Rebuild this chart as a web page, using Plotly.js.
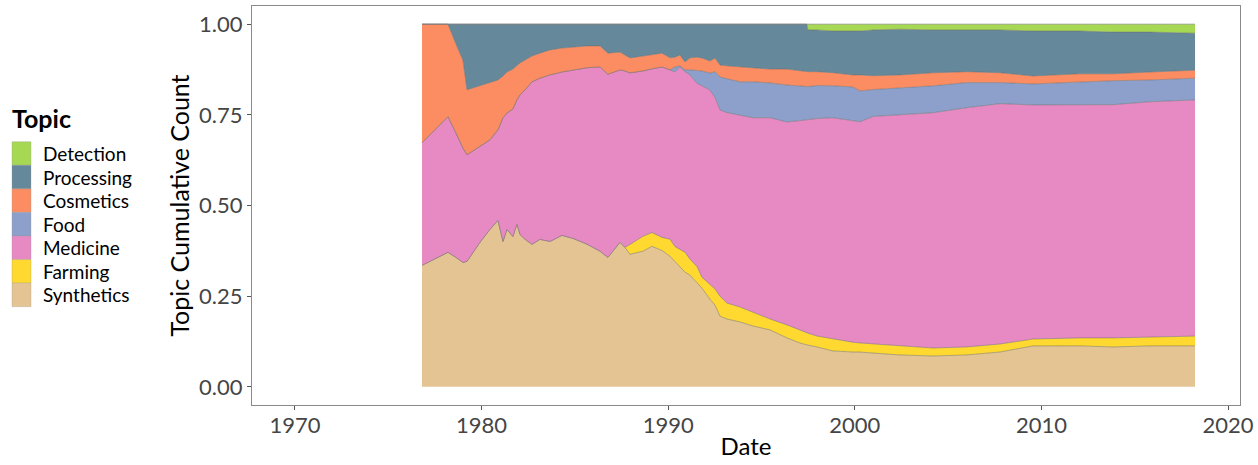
<!DOCTYPE html>
<html>
<head>
<meta charset="utf-8">
<script src="https://cdn.plot.ly/plotly-3.0.1.min.js"></script>
<style>
  html, body { margin: 0; padding: 0; background: #ffffff; }
  #chart { width: 1258px; height: 465px; }
</style>
</head>
<body>
<div id="chart"></div>
<script>
// ---- Data (proportion of cumulative count per topic) ----
const dates = [1976.81, 1978.20, 1978.63, 1979.00, 1979.22, 1979.91, 1980.45, 1980.88, 1981.15, 1981.36,
  1981.68, 1981.90, 1982.06, 1982.33, 1982.70, 1983.13, 1983.67, 1984.31, 1984.90, 1985.65,
  1986.35, 1986.77, 1987.42, 1987.68, 1987.95, 1988.65, 1989.13, 1989.67, 1990.10, 1990.36,
  1990.63, 1990.90, 1991.17, 1991.54, 1991.81, 1992.24, 1992.51, 1992.78, 1993.15, 1993.85,
  1994.54, 1995.46, 1996.37, 1997.06, 1997.43, 1997.49, 1997.97, 1998.83, 1999.90, 2000.28,
  2000.98, 2002.42, 2004.19, 2006.01, 2007.78, 2009.55, 2012.07, 2013.84, 2015.82, 2018.23];

const synthetics = [0.335, 0.371, 0.357, 0.343, 0.346, 0.398, 0.434, 0.459, 0.401, 0.434,
  0.415, 0.448, 0.420, 0.407, 0.393, 0.407, 0.401, 0.418, 0.409, 0.393,
  0.374, 0.357, 0.398, 0.385, 0.365, 0.374, 0.387, 0.376, 0.360, 0.346,
  0.332, 0.316, 0.308, 0.288, 0.272, 0.242, 0.225, 0.195, 0.187, 0.179,
  0.168, 0.157, 0.135, 0.121, 0.115, 0.115, 0.110, 0.099, 0.096, 0.096,
  0.093, 0.088, 0.085, 0.088, 0.096, 0.113, 0.113, 0.110, 0.113, 0.113];

const farming = [0, 0, 0, 0, 0, 0, 0, 0, 0, 0,
  0, 0, 0, 0, 0, 0, 0, 0, 0, 0,
  0, 0, 0, 0, 0.027, 0.041, 0.038, 0.036, 0.047, 0.041,
  0.047, 0.055, 0.044, 0.044, 0.030, 0.041, 0.044, 0.055, 0.044, 0.041,
  0.038, 0.030, 0.036, 0.036, 0.033, 0.033, 0.030, 0.033, 0.027, 0.025,
  0.025, 0.025, 0.022, 0.022, 0.022, 0.019, 0.022, 0.025, 0.025, 0.027];

const medicine = [0.338, 0.374, 0.343, 0.316, 0.294, 0.264, 0.247, 0.250, 0.341, 0.321,
  0.352, 0.343, 0.385, 0.412, 0.448, 0.445, 0.459, 0.451, 0.464, 0.486,
  0.508, 0.505, 0.475, 0.486, 0.473, 0.456, 0.451, 0.470, 0.467, 0.481,
  0.503, 0.497, 0.508, 0.505, 0.527, 0.536, 0.527, 0.514, 0.525, 0.530,
  0.536, 0.555, 0.560, 0.577, 0.588, 0.588, 0.599, 0.610, 0.610, 0.610,
  0.626, 0.637, 0.648, 0.659, 0.662, 0.646, 0.643, 0.643, 0.648, 0.651];

const food = [0, 0, 0, 0, 0, 0, 0, 0, 0, 0,
  0, 0, 0, 0, 0, 0, 0, 0, 0, 0,
  0, 0, 0, 0, 0, 0, 0, 0, 0, 0.014,
  0.003, 0.005, 0.014, 0.036, 0.041, 0.047, 0.071, 0.091, 0.093, 0.091,
  0.099, 0.096, 0.102, 0.096, 0.091, 0.091, 0.091, 0.088, 0.093, 0.085,
  0.074, 0.074, 0.074, 0.069, 0.058, 0.058, 0.063, 0.066, 0.060, 0.060];

const cosmetics = [0.327, 0.255, 0.245, 0.242, 0.179, 0.168, 0.157, 0.137, 0.115, 0.113,
  0.110, 0.093, 0.088, 0.082, 0.071, 0.069, 0.069, 0.066, 0.063, 0.060,
  0.058, 0.058, 0.049, 0.044, 0.041, 0.041, 0.038, 0.038, 0.033, 0.027,
  0.030, 0.022, 0.033, 0.036, 0.036, 0.033, 0.038, 0.033, 0.036, 0.041,
  0.038, 0.038, 0.044, 0.041, 0.041, 0.041, 0.038, 0.036, 0.033, 0.044,
  0.038, 0.036, 0.036, 0.030, 0.027, 0.022, 0.022, 0.019, 0.022, 0.022];

const processing = [0, 0, 0.055, 0.099, 0.181, 0.170, 0.162, 0.154, 0.143, 0.132,
  0.124, 0.115, 0.107, 0.099, 0.088, 0.080, 0.071, 0.066, 0.063, 0.060,
  0.060, 0.080, 0.077, 0.085, 0.093, 0.088, 0.085, 0.080, 0.093, 0.091,
  0.085, 0.104, 0.093, 0.091, 0.093, 0.102, 0.093, 0.113, 0.115, 0.118,
  0.121, 0.124, 0.124, 0.129, 0.132, 0.115, 0.115, 0.115, 0.121, 0.121,
  0.126, 0.126, 0.118, 0.115, 0.118, 0.124, 0.118, 0.115, 0.110, 0.102];

const detection = [0, 0, 0, 0, 0, 0, 0, 0, 0, 0,
  0, 0, 0, 0, 0, 0, 0, 0, 0, 0,
  0, 0, 0, 0, 0, 0, 0, 0, 0, 0,
  0, 0, 0, 0, 0, 0, 0, 0, 0, 0,
  0, 0, 0, 0, 0, 0.016, 0.016, 0.019, 0.019, 0.019,
  0.016, 0.014, 0.016, 0.016, 0.016, 0.019, 0.019, 0.022, 0.022, 0.025];

// legend order (top to bottom)
const topics = ['Detection', 'Processing', 'Cosmetics', 'Food', 'Medicine', 'Farming', 'Synthetics'];
const topicColors = ['#a6d854', '#65889a', '#fc8d62', '#8da0cb', '#e78ac3', '#ffd92f', '#e5c494'];
const xTicks = [1970, 1980, 1990, 2000, 2010, 2020];
const yTicks = [0, 0.25, 0.5, 0.75, 1];
const yTickText = ['0.00', '0.25', '0.50', '0.75', '1.00'];

// stacking order bottom -> top
const seriesByTopic = {
  Synthetics: synthetics, Farming: farming, Medicine: medicine, Food: food,
  Cosmetics: cosmetics, Processing: processing, Detection: detection
};
const stackOrder = topics.slice().reverse();

const traces = stackOrder.map((name, i) => {
  const col = topicColors[topics.indexOf(name)];
  const t = {
    type: 'scatter', mode: 'lines', name: name,
    x: dates, y: seriesByTopic[name],
    stackgroup: 'one',
    fillcolor: col,
    line: { color: 'rgba(105,105,105,0.85)', width: 0.6 },
    showlegend: false,
    hoverinfo: 'x+y+name'
  };
  if (i === 0) t.groupnorm = 'fraction';
  return t;
});

// ---- manual legend (ggplot style), placed in pixel coordinates ----
const W = 1258, H = 465;
const M = { l: 252, r: 18, t: 6, b: 60 };
const pw = W - M.l - M.r, ph = H - M.t - M.b;
const px2x = px => (px - M.l) / pw;
const py2y = py => (H - M.b - py) / ph;
const FONT = 'Lato, "Open Sans", sans-serif';

const shapes = [];
const annotations = [];
const keyTop = 141.7, keyH = 23.57, keyL = 12, keyR = 31;
topics.forEach((name, i) => {
  const y0 = keyTop + i * keyH;
  shapes.push({
    type: 'rect', xref: 'paper', yref: 'paper',
    x0: px2x(keyL), x1: px2x(keyR), y0: py2y(y0 + keyH), y1: py2y(y0),
    fillcolor: topicColors[i], line: { width: 0.5, color: 'rgba(150,150,150,0.6)' }
  });
  annotations.push({
    xref: 'paper', yref: 'paper', x: px2x(42), y: py2y(y0 + keyH / 2),
    xanchor: 'left', yanchor: 'middle', showarrow: false, text: name,
    borderpad: 0,
    font: { family: FONT, size: 19, color: '#000000' }
  });
});
annotations.push({
  xref: 'paper', yref: 'paper', x: px2x(11), y: py2y(118),
  xanchor: 'left', yanchor: 'middle', showarrow: false, text: '<b>Topic</b>',
  borderpad: 0,
  font: { family: FONT, size: 25, color: '#000000' }
});

const layout = {
  width: W, height: H,
  margin: M,
  paper_bgcolor: '#ffffff', plot_bgcolor: '#ffffff',
  font: { family: FONT, color: '#000000' },
  showlegend: false,
  xaxis: {
    range: [1967.7, 2020.64], tickmode: 'array', tickvals: xTicks,
    showgrid: false, zeroline: false,
    showline: true, mirror: true, linecolor: '#8a8a8a', linewidth: 1,
    ticks: 'outside', ticklen: 4, tickcolor: '#555555', tickwidth: 1,
    ticklabelstandoff: -3,
    tickfont: { size: 22, color: '#454545' },
    title: { text: 'Date', font: { size: 24, color: '#000000' }, standoff: 0 },
    automargin: false
  },
  yaxis: {
    range: [-0.05, 1.05], tickmode: 'array', tickvals: yTicks, ticktext: yTickText,
    showgrid: false, zeroline: false,
    showline: true, mirror: true, linecolor: '#8a8a8a', linewidth: 1,
    ticks: 'outside', ticklen: 4, tickcolor: '#555555', tickwidth: 1,
    tickfont: { size: 22, color: '#454545' },
    title: { text: 'Topic Cumulative Count', font: { size: 25, color: '#000000' }, standoff: 2 },
    automargin: false
  },
  shapes: shapes,
  annotations: annotations
};

Plotly.newPlot('chart', traces, layout, { displayModeBar: false, staticPlot: true });
</script>
</body>
</html>
